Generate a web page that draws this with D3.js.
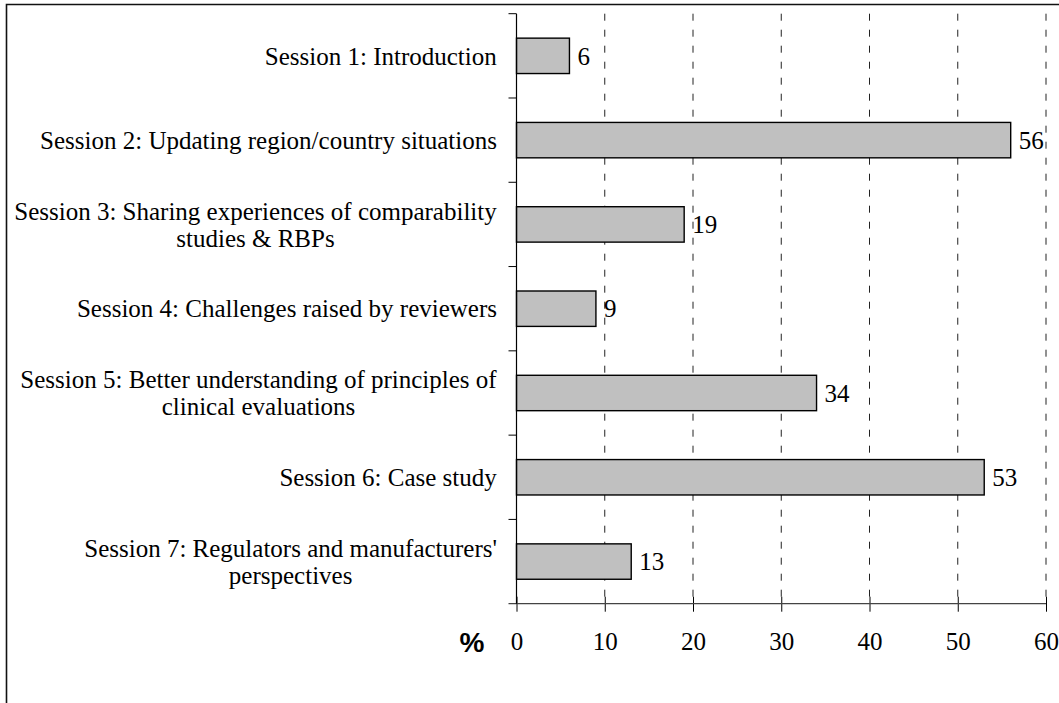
<!DOCTYPE html>
<html>
<head>
<meta charset="utf-8">
<script src="https://cdn.jsdelivr.net/npm/d3@7"></script>
<style>
  html, body { margin: 0; padding: 0; background: #fff; }
  svg { display: block; }
</style>
</head>
<body>
<svg id="chart" width="1059" height="703"></svg>
<script>
// data
const categories = [
    "Session 1: Introduction",
    "Session 2: Updating region/country situations",
    "Session 3: Sharing experiences of comparability\nstudies & RBPs",
    "Session 4: Challenges raised by reviewers",
    "Session 5: Better understanding of principles of\nclinical evaluations",
    "Session 6: Case study",
    "Session 7: Regulators and manufacturers'\nperspectives"
];
const values = [6, 56, 19, 9, 34, 53, 13];
const xTicks = [0, 10, 20, 30, 40, 50, 60];
const xLabel = "%";

const data = categories.map((c, i) => ({name: c, value: values[i]}));

const svg = d3.select("#chart");
const margin = {left: 516.5, right: 13, top: 13.7, bottom: 99.3};
const W = +svg.attr("width"), H = +svg.attr("height");
const serif = "'Liberation Serif', 'Times New Roman', serif";

svg.append("rect").attr("width", W).attr("height", H).attr("fill", "#fff");

// frame (only top and left visible)
svg.append("path")
    .attr("d", `M6.5,${H} L6.5,4.5 L${W},4.5`)
    .attr("fill", "none").attr("stroke", "#111").attr("stroke-width", 1.6);

let x = d3.scaleLinear().domain([0, 60]).range([margin.left, W - margin.right]);
let y = d3.scaleBand().domain(categories).range([margin.top, H - margin.bottom]).padding(0);
const barH = y.bandwidth() * 0.42;
const y0 = y.range()[0], y1 = y.range()[1];

// dashed grid
svg.append("g").selectAll("line")
    .data(xTicks.filter(d => d > 0))
    .join("line")
    .attr("x1", d => x(d)).attr("x2", d => x(d))
    .attr("y1", y0).attr("y2", y1)
    .attr("stroke", "#222").attr("stroke-width", 1)
    .attr("stroke-dasharray", "7,9");

// bars
svg.append("g").selectAll("rect")
    .data(data)
    .join("rect")
    .attr("x", x(0))
    .attr("y", d => y(d.name) + (y.bandwidth() - barH) / 2)
    .attr("width", d => x(d.value) - x(0))
    .attr("height", barH)
    .attr("fill", "#c0c0c0")
    .attr("stroke", "#000").attr("stroke-width", 1.4);

// value labels
svg.append("g").selectAll("text")
    .data(data)
    .join("text")
    .attr("x", d => x(d.value) + 8)
    .attr("y", d => y(d.name) + y.bandwidth() / 2)
    .attr("dy", "0.35em")
    .attr("font-family", serif).attr("font-size", 25)
    .attr("fill", "#000")
    .text(d => d.value);

// x axis
const xAxis = d3.axisBottom(x).tickValues(xTicks).tickSize(8).tickFormat(d3.format("d"));
const gx = svg.append("g").attr("transform", `translate(0,${y1})`).call(xAxis);
gx.select(".domain").remove();
gx.append("line").attr("x1", x(0) - 8).attr("x2", x(60)).attr("y1", 0).attr("y2", 0)
    .attr("stroke", "#444").attr("stroke-width", 1.2);
gx.selectAll(".tick line").attr("y1", -7).attr("y2", 8).attr("stroke", "#000");
gx.selectAll(".tick text")
    .attr("y", 38).attr("dy", "0.35em")
    .attr("font-family", serif).attr("font-size", 25).attr("fill", "#000");

svg.append("text")
    .attr("x", 472).attr("y", y1 + 38).attr("dy", "0.35em")
    .attr("text-anchor", "middle")
    .attr("font-family", "'Liberation Sans', Arial, sans-serif")
    .attr("font-weight", "bold").attr("font-size", 28)
    .text(xLabel);

// y axis with ticks at band boundaries
const gy = svg.append("g");
gy.append("line").attr("x1", x(0)).attr("x2", x(0)).attr("y1", y0).attr("y2", y1)
    .attr("stroke", "#000").attr("stroke-width", 1.2);
gy.selectAll("line.tk")
    .data(categories)
    .join("line").attr("class", "tk")
    .attr("x1", x(0) - 8).attr("x2", x(0))
    .attr("y1", d => y(d)).attr("y2", d => y(d))
    .attr("stroke", "#000").attr("stroke-width", 1);

// category labels, wrapped lines centred on each other, block right-aligned
const lineH = 27;
const labels = gy.selectAll("g.lab")
    .data(categories)
    .join("g").attr("class", "lab");
labels.each(function(d) {
    const g = d3.select(this);
    const lines = d.split("\n");
    const cy = y(d) + y.bandwidth() / 2;
    const t = g.append("text")
        .attr("font-family", serif).attr("font-size", 25).attr("fill", "#000")
        .attr("text-anchor", "middle");
    lines.forEach((ln, i) => {
        t.append("tspan").attr("x", 0)
            .attr("y", cy + (i - (lines.length - 1) / 2) * lineH)
            .attr("dy", "0.35em")
            .text(ln);
    });
    const bb = t.node().getBBox();
    t.attr("transform", `translate(${497 - bb.width / 2},0)`);
});
</script>
</body>
</html>
